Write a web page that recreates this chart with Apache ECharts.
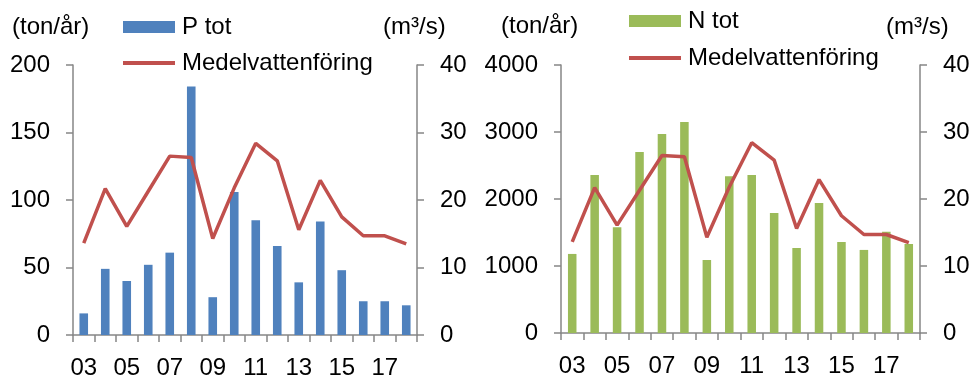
<!DOCTYPE html>
<html>
<head>
<meta charset="utf-8">
<script src="https://cdn.jsdelivr.net/npm/echarts@6/dist/echarts.min.js"></script>
<style>
html,body{margin:0;padding:0;background:#fff;}
#chart{width:973px;height:376px;}
</style>
</head>
<body>
<div id="chart"></div>
<script>
var years = ['03','04','05','06','07','08','09','10','11','12','13','14','15','16','17','18'];
var pTot = [16, 49, 40, 52, 61, 184, 28, 106, 85, 66, 39, 84, 48, 25, 25, 22];
var nTot = [1180, 2360, 1580, 2700, 2970, 3150, 1090, 2340, 2360, 1790, 1270, 1940, 1360, 1240, 1510, 1330];
var flow = [13.6, 21.7, 16.1, 21.3, 26.5, 26.3, 14.3, 21.8, 28.4, 25.8, 15.6, 22.9, 17.5, 14.7, 14.7, 13.5];
var pTicks = [0, 200, 50];
var nTicks = [0, 4000, 1000];
var flowTicks = [0, 40, 10];

var fontFam = '"Liberation Sans", Arial, sans-serif';
var axisColor = '#868686';
var blue = '#4F81BD', green = '#9BBB59', red = '#C0504D';

function valueAxis(gridIndex, position, ticks){
    return {
        type: 'value',
        gridIndex: gridIndex,
        position: position,
        min: ticks[0],
        max: ticks[1],
        interval: ticks[2],
        splitLine: {show: false},
        axisLine: {show: true, lineStyle: {color: axisColor, width: 1.5}},
        axisTick: {show: true, length: 7, lineStyle: {color: axisColor, width: 1.5}},
        axisLabel: {color: '#000', fontSize: 24, fontFamily: fontFam, margin: 23,
            formatter: function(v){ return String(v); }}
    };
}
function catAxis(gridIndex){
    return {
        type: 'category',
        gridIndex: gridIndex,
        data: years,
        axisLine: {show: true, lineStyle: {color: axisColor, width: 1.5}},
        axisTick: {show: true, interval: 0, length: 7, lineStyle: {color: axisColor, width: 1.5}},
        axisLabel: {interval: 1, color: '#000', fontSize: 24, fontFamily: fontFam, margin: 21}
    };
}
function legendItem(name, left, top, h){
    return {
        data: [name],
        left: left,
        top: top,
        padding: 0,
        icon: 'rect',
        itemWidth: 52,
        itemHeight: h,
        itemGap: 0,
        selectedMode: false,
        textStyle: {color: '#000', fontSize: 24, fontFamily: fontFam, padding: [0, 0, 0, 2]}
    };
}
function unitText(txt, x, y){
    return {type: 'text', left: x, top: y, style: {text: txt, fill: '#000', font: '24px ' + fontFam}};
}

var chart = echarts.init(document.getElementById('chart'));
var option = {
    animation: false,
    grid: [
        {left: 73, right: 556, top: 65, bottom: 41, outerBoundsMode: 'none', containLabel: false},
        {left: 561, right: 53, top: 65, bottom: 43, outerBoundsMode: 'none', containLabel: false}
    ],
    legend: [
        legendItem('P tot', 123, 15, 12),
        legendItem('Medelvattenföring', 123, 51, 4),
        legendItem('N tot', 629, 9, 12),
        legendItem('Medelvattenföring ', 629, 46, 4)
    ],
    xAxis: [catAxis(0), catAxis(1)],
    yAxis: [
        valueAxis(0, 'left', pTicks),
        valueAxis(0, 'right', flowTicks),
        valueAxis(1, 'left', nTicks),
        valueAxis(1, 'right', flowTicks)
    ],
    graphic: [
        unitText('(ton/år)', 12, 15),
        unitText('(m³/s)', 383, 15),
        unitText('(ton/år)', 501, 14),
        unitText('(m³/s)', 886, 15)
    ],
    series: [
        {name: 'P tot', type: 'bar', xAxisIndex: 0, yAxisIndex: 0, data: pTot, barWidth: '40%', itemStyle: {color: blue}},
        {name: 'Medelvattenföring', type: 'line', xAxisIndex: 0, yAxisIndex: 1, data: flow, symbol: 'none', lineStyle: {color: red, width: 3.5}, itemStyle: {color: red}},
        {name: 'N tot', type: 'bar', xAxisIndex: 1, yAxisIndex: 2, data: nTot, barWidth: '38%', itemStyle: {color: green}},
        {name: 'Medelvattenföring ', type: 'line', xAxisIndex: 1, yAxisIndex: 3, data: flow, symbol: 'none', lineStyle: {color: red, width: 3.5}, itemStyle: {color: red}}
    ]
};
chart.setOption(option);
</script>
</body>
</html>
